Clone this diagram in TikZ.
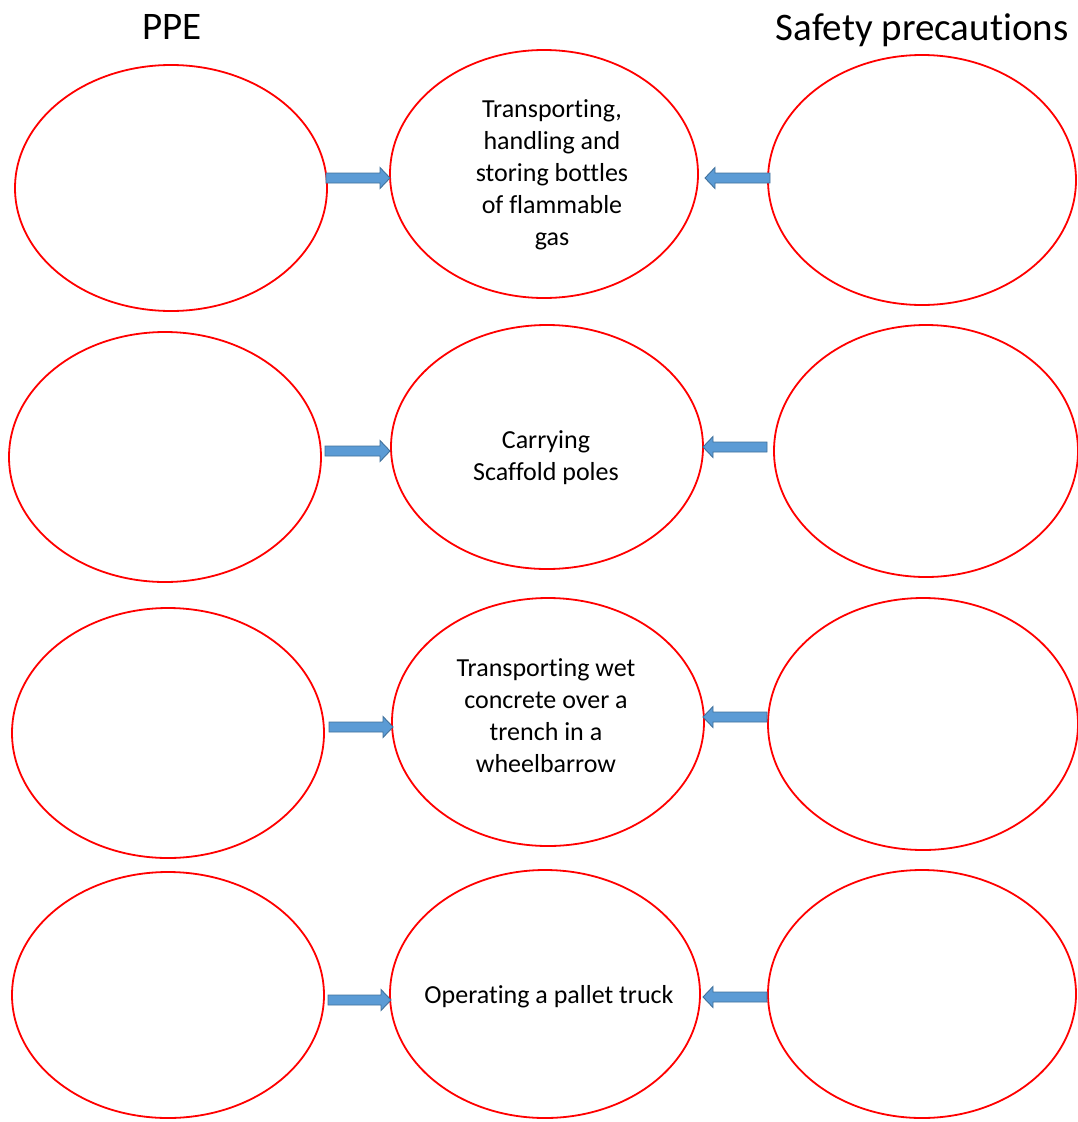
\documentclass[tikz,border=0pt]{standalone}
\usepackage{fontspec}
\setmainfont{Carlito}[Ligatures=NoCommon]
\usetikzlibrary{shapes.geometric}
\definecolor{arrfill}{HTML}{5B9BD5}
\definecolor{arrline}{HTML}{41719C}
\tikzset{
  oval/.style={ellipse, draw=red, line width=1.8pt, inner sep=0pt},
  blk/.style={fill=arrfill, draw=arrline, line width=0.9pt, line join=miter},
  body/.style={align=center, font=\fontsize{26}{32}\selectfont, inner sep=0pt},
  head/.style={font=\fontsize{39}{46}\selectfont, inner sep=0pt}
}
% right-pointing block arrow: tail x, tip x, y
\newcommand\rblk[3]{\filldraw[blk] (#1,#3-5) -- (#2-10,#3-5) -- (#2-10,#3-10.5) -- (#2,#3) -- (#2-10,#3+10.5) -- (#2-10,#3+5) -- (#1,#3+5) -- cycle;}
% left-pointing block arrow: tail x, tip x, y
\newcommand\lblk[3]{\filldraw[blk] (#1,#3-5) -- (#2+10,#3-5) -- (#2+10,#3-10.5) -- (#2,#3) -- (#2+10,#3+10.5) -- (#2+10,#3+5) -- (#1,#3+5) -- cycle;}
\begin{document}
\begin{tikzpicture}[x=1pt,y=-1pt]
\useasboundingbox (0,0) rectangle (1078,1122);
\node[head] (ppe) at (172,27) {PPE};
\node[head] (sp) at (922,30) {Safety precautions};
% row 1
\node[oval, minimum width=312, minimum height=246] (l1) at (171,188) {};
\node[oval, minimum width=308, minimum height=248] (m1) at (544,174) {};
\node[oval, minimum width=308, minimum height=250] (r1) at (922,180) {};
\node[body] (t1) at (552,175) {Transporting,\\handling and\\storing bottles\\of flammable\\gas};
\rblk{326}{390}{178}
\lblk{770}{705}{178}
% row 2
\node[oval, minimum width=312, minimum height=250] (l2) at (165,457) {};
\node[oval, minimum width=312, minimum height=244] (m2) at (547,447) {};
\node[oval, minimum width=304, minimum height=252] (r2) at (926,451) {};
\node[body] (t2) at (546,458) {Carrying\\Scaffold poles};
\rblk{325}{390}{451}
\lblk{767}{703}{447}
% row 3
\node[oval, minimum width=312, minimum height=250] (l3) at (168,733) {};
\node[oval, minimum width=312, minimum height=248] (m3) at (548,722) {};
\node[oval, minimum width=310, minimum height=252] (r3) at (923,724) {};
\node[body] (t3) at (546,716) {Transporting wet\\concrete over a\\trench in a\\wheelbarrow};
\rblk{329}{393}{727}
\lblk{767}{703}{717}
% row 4
\node[oval, minimum width=312, minimum height=246] (l4) at (168,995) {};
\node[oval, minimum width=310, minimum height=248] (m4) at (545,994) {};
\node[oval, minimum width=308, minimum height=248] (r4) at (922,994) {};
\node[body] (t4) at (549,997) {Operating a pallet truck};
\rblk{328}{391}{1000}
\lblk{767}{703}{997}
\end{tikzpicture}
\end{document}
